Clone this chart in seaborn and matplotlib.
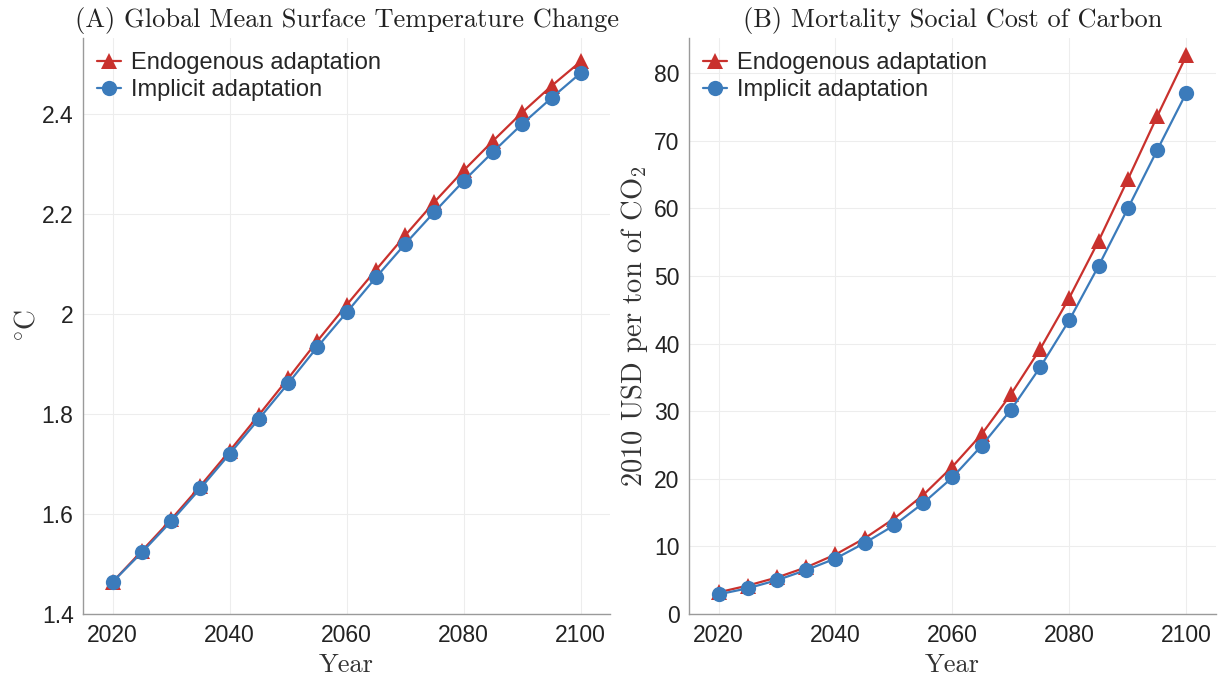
import matplotlib
matplotlib.use("Agg")
import matplotlib.pyplot as plt
import matplotlib.ticker as mticker
import numpy as np
import pandas as pd
import seaborn as sns

# Years on the horizontal axis
years = list(range(2020, 2101, 5))

# Panel A: global mean surface temperature change (deg C)
temp_endogenous = [1.464, 1.526, 1.589, 1.656, 1.726, 1.798, 1.871, 1.946, 2.018,
                   2.088, 2.157, 2.224, 2.287, 2.346, 2.403, 2.456, 2.505]
temp_implicit = [1.464, 1.523, 1.585, 1.651, 1.720, 1.790, 1.861, 1.934, 2.003,
                 2.073, 2.140, 2.204, 2.266, 2.324, 2.380, 2.432, 2.482]

# Panel B: mortality social cost of carbon (2010 USD per ton CO2)
scc_endogenous = [3.2, 4.2, 5.4, 6.9, 8.8, 11.2, 14.1, 17.6, 21.8,
                  26.6, 32.5, 39.2, 46.8, 55.2, 64.3, 73.6, 82.6]
scc_implicit = [2.9, 3.8, 5.0, 6.5, 8.2, 10.5, 13.1, 16.4, 20.2,
                24.9, 30.2, 36.5, 43.5, 51.5, 60.0, 68.6, 77.1]

scenarios = ["Endogenous adaptation", "Implicit adaptation"]
x_ticks = [2020, 2040, 2060, 2080, 2100]
temp_ticks = [1.4, 1.6, 1.8, 2.0, 2.2, 2.4]
scc_ticks = [0, 10, 20, 30, 40, 50, 60, 70, 80]

RED = "#C9312D"
BLUE = "#3B7BBB"

sns.set_theme(style="white")
plt.rcParams["font.family"] = ["Liberation Sans", "DejaVu Sans"]
plt.rcParams["mathtext.fontset"] = "cm"

def long_frame(endo, impl):
    return pd.DataFrame({
        "Year": years * 2,
        "value": list(endo) + list(impl),
        "Scenario": [scenarios[0]] * len(years) + [scenarios[1]] * len(years),
    })

fig = plt.figure(figsize=(12.23, 6.77), dpi=100)
ax_a = fig.add_axes([0.0681, 0.0931, 0.4307, 0.8509])
ax_b = fig.add_axes([0.5636, 0.0931, 0.4304, 0.8509])

panels = [
    (ax_a, long_frame(temp_endogenous, temp_implicit), (1.4, 2.552), temp_ticks,
     "(A) Global Mean Surface Temperature Change", r"$^{\circ}$C", 20, 1),
    (ax_b, long_frame(scc_endogenous, scc_implicit), (0, 85.2), scc_ticks,
     "(B) Mortality Social Cost of Carbon", r"2010 USD per ton of CO$_2$", 20.5, 3),
]

for ax, df, ylim, yticks, title, ylabel, ylsize, ylpad in panels:
    sns.lineplot(data=df, x="Year", y="value", hue="Scenario", style="Scenario",
                 hue_order=scenarios, style_order=scenarios,
                 palette={scenarios[0]: RED, scenarios[1]: BLUE},
                 markers={scenarios[0]: "^", scenarios[1]: "o"}, dashes=False,
                 markersize=11, markeredgewidth=0, linewidth=1.6, ax=ax)
    ax.set_xlim(2015, 2105)
    ax.set_ylim(*ylim)
    ax.set_xticks(x_ticks)
    ax.set_yticks(yticks)
    ax.yaxis.set_major_formatter(mticker.FormatStrFormatter("%g"))
    ax.tick_params(axis="both", labelsize=16.5, direction="in", length=4,
                   width=0.8, color="#9A9A9A", pad=7, labelcolor="#222222")
    ax.grid(True, color="#EDEDED", linewidth=0.8)
    ax.set_axisbelow(True)
    for side in ("top", "right"):
        ax.spines[side].set_visible(False)
    for side in ("left", "bottom"):
        ax.spines[side].set_color("#9A9A9A")
        ax.spines[side].set_linewidth(1.0)
    ax.set_title(title, fontfamily="cmr10", fontsize=19, color="#222222", pad=8)
    ax.set_xlabel("Year", fontfamily="cmr10", fontsize=19, color="#333333", labelpad=5)
    ax.set_ylabel(ylabel, fontfamily="cmr10", fontsize=ylsize, color="#333333",
                  labelpad=ylpad)
    leg = ax.legend(loc="upper left", frameon=False, fontsize=17, title=None,
                    handlelength=1.0, handletextpad=0.4, labelspacing=0.22,
                    borderaxespad=0.2, bbox_to_anchor=(0.0, 1.0))

fig.savefig("out.png", dpi=100, facecolor="white")
